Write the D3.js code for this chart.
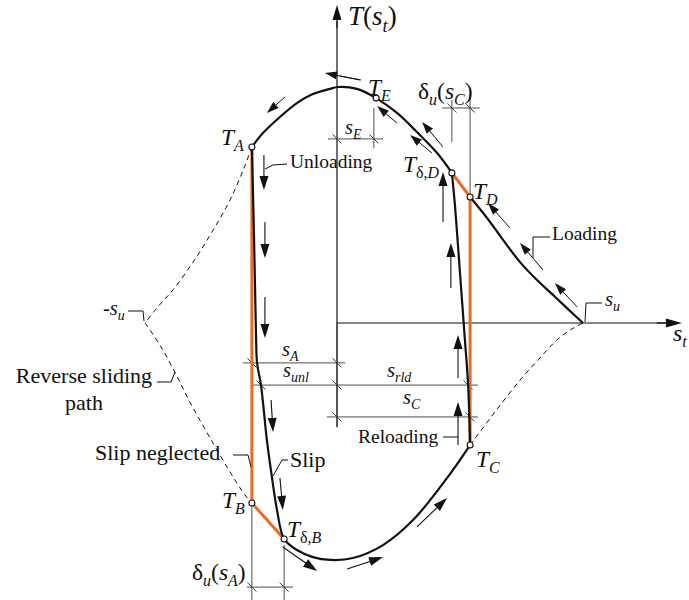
<!DOCTYPE html>
<html>
<head>
<meta charset="utf-8">
<script src="https://cdn.jsdelivr.net/npm/d3@7"></script>
<style>
  body { margin: 0; background: #fff; }
  text { font-family: "Liberation Serif", "Times New Roman", serif; fill: #111; }
</style>
</head>
<body>
<svg id="chart" width="689" height="600"></svg>
<script>
// Cyclic bond-slip law: slip s (in units of s_u) against bond stress T (in units of the peak).

// Monotonic envelope, rising part up to the peak and on to T_δ,D
const envelopeUpper = [
  [-0.346, 0.746], [-0.301, 0.805], [-0.232, 0.873], [-0.163, 0.932], [-0.098, 0.970],
  [-0.028, 0.992], [0.004, 1.000], [0.081, 0.992], [0.159, 0.953], [0.244, 0.890],
  [0.325, 0.809], [0.407, 0.720], [0.467, 0.636]
];
// Softening branch from T_D down to s_u
const envelopeSoftening = [
  [0.541, 0.534], [0.610, 0.445], [0.675, 0.352], [0.744, 0.258], [0.813, 0.182],
  [0.878, 0.119], [0.939, 0.059], [0.980, 0.019], [1.000, 0.000]
];
// Unloading from T_A through T_δ,B and the reverse valley to T_C
const unloadingPath = [
  [-0.346, 0.746], [-0.337, 0.352], [-0.329, -0.059], [-0.325, -0.169], [-0.309, -0.263],
  [-0.285, -0.496], [-0.264, -0.657], [-0.244, -0.792], [-0.215, -0.915], [-0.163, -0.962],
  [-0.098, -0.992], [-0.028, -1.004], [0.065, -0.996], [0.187, -0.941], [0.309, -0.835],
  [0.447, -0.657], [0.541, -0.517]
];
// Reloading from T_C back up to T_δ,D
const reloadingPath = [
  [0.541, -0.517], [0.533, -0.263], [0.520, -0.072], [0.500, 0.212], [0.480, 0.492], [0.467, 0.636]
];
// Simplified path with slip neglected
const slipNeglectedUnload = [[-0.346, 0.746], [-0.346, -0.763], [-0.215, -0.915]];
const slipNeglectedReload = [[0.467, 0.636], [0.541, 0.534], [0.541, -0.517]];
// Reverse sliding path (dashed)
const reverseUpper = [
  [-0.346, 0.746], [-0.378, 0.657], [-0.435, 0.521], [-0.508, 0.386], [-0.585, 0.258],
  [-0.667, 0.140], [-0.732, 0.064], [-0.780, 0.000]
];
const reverseLower = [
  [-0.780, 0.000], [-0.720, -0.093], [-0.659, -0.208], [-0.598, -0.335], [-0.516, -0.487],
  [-0.435, -0.631], [-0.374, -0.729], [-0.346, -0.763]
];
const reverseRight = [
  [0.541, -0.517], [0.642, -0.377], [0.744, -0.242], [0.825, -0.148], [0.894, -0.072],
  [0.955, -0.025], [1.000, 0.000]
];
// Characteristic points
const pointNames = ["T_A", "T_E", "T_δ,D", "T_D", "T_B", "T_δ,B", "T_C"];
const pointValues = [
  [-0.346, 0.746], [0.159, 0.953], [0.467, 0.636], [0.541, 0.534],
  [-0.346, -0.763], [-0.215, -0.915], [0.541, -0.517]
];
// Direction arrows [tail s, tail T, tip s, tip T]
const envelopeArrows = [
  [-0.211, 0.958, -0.285, 0.890], [0.093, 1.030, -0.049, 1.059],
  [0.244, 0.847, 0.163, 0.919], [0.431, 0.746, 0.346, 0.852], [0.386, 0.720, 0.297, 0.797],
  [0.703, 0.403, 0.614, 0.508], [0.837, 0.225, 0.744, 0.339], [0.976, 0.068, 0.886, 0.169]
];
const unloadingArrows = [
  [-0.297, 0.712, -0.297, 0.564], [-0.293, 0.428, -0.293, 0.275], [-0.293, 0.110, -0.293, -0.064],
  [-0.268, -0.326, -0.260, -0.462], [-0.232, -0.657, -0.220, -0.792],
  [-0.220, -0.949, -0.081, -1.051], [0.041, -1.042, 0.187, -0.992], [0.325, -0.864, 0.447, -0.742]
];
const reloadingArrows = [
  [0.431, 0.428, 0.431, 0.640], [0.463, 0.148, 0.463, 0.339],
  [0.492, -0.233, 0.492, -0.051], [0.492, -0.517, 0.492, -0.335]
];
// Slip dimensions: [from s, to s, level T, tick positions]
const dimensions = [
  { name: "sA",   from: -0.382, to: 0.033, at: -0.169, ticks: [-0.346, 0] },
  { name: "sunl", from: -0.341, to: 0.573, at: -0.263, ticks: [-0.309, 0, 0.533] },
  { name: "sC",   from: -0.041, to: 0.573, at: -0.398, ticks: [0, 0.541] },
  { name: "sE",   from: -0.037, to: 0.187, at: 0.780,  ticks: [0, 0.150] },
  { name: "duC",  from: 0.427,  to: 0.581, at: 0.911,  ticks: [0.467, 0.541] },
  { name: "duA",  from: -0.366, to: -0.179, at: -1.119, ticks: [-0.346, -0.215] }
];
// Extension lines: [s, T from, T to]
const extensions = [
  [0.150, 0.911, 0.742], [0.467, 0.945, 0.767], [0.541, 0.966, 0.534],
  [-0.346, -0.763, -1.174], [-0.215, -0.940, -1.174], [0, 0, -0.441]
];

const svg = d3.select("#chart");
const x = d3.scaleLinear().domain([0, 1]).range([337, 583]);
const y = d3.scaleLinear().domain([0, 1]).range([323, 87]);

const smooth = d3.line().x(d => x(d[0])).y(d => y(d[1])).curve(d3.curveCatmullRom.alpha(0.5));
const straight = d3.line().x(d => x(d[0])).y(d => y(d[1]));

const ORANGE = "#ec6a24";
const DIM = "#3a3a3a";

function arrow(g, a, len, wid, sw) {
  const x0 = x(a[0]), y0 = y(a[1]), x1 = x(a[2]), y1 = y(a[3]);
  const dx = x1 - x0, dy = y1 - y0, L = Math.hypot(dx, dy);
  const ux = dx / L, uy = dy / L, nx = -uy, ny = ux;
  const bx = x1 - ux * len, by = y1 - uy * len;
  g.append("line").attr("x1", x0).attr("y1", y0).attr("x2", bx + ux).attr("y2", by + uy)
    .attr("stroke", "#111").attr("stroke-width", sw);
  g.append("path")
    .attr("d", `M${x1},${y1}L${bx + nx * wid / 2},${by + ny * wid / 2}L${bx - nx * wid / 2},${by - ny * wid / 2}Z`)
    .attr("fill", "#111");
}

// Rich text: parts of [string, italic, subscript]
function label(xp, yp, parts, size, anchor) {
  const t = svg.append("text").attr("x", xp).attr("y", yp).attr("font-size", size)
    .attr("text-anchor", anchor || "start");
  let sub = false;
  parts.forEach(p => {
    const ts = t.append("tspan").text(p[0]);
    if (p[1]) ts.attr("font-style", "italic");
    if (p[2] && !sub) { ts.attr("dy", size * 0.26).attr("font-size", size * 0.68); sub = true; }
    else if (p[2]) { ts.attr("font-size", size * 0.68); }
    else if (!p[2] && sub) { ts.attr("dy", -size * 0.26); sub = false; }
  });
  return t;
}

// Axes
const axes = svg.append("g");
axes.append("line").attr("x1", x(0)).attr("y1", y(-0.441)).attr("x2", x(0)).attr("y2", y(1.28))
  .attr("stroke", "#111").attr("stroke-width", 1.2);
arrow(axes, [0, 1.25, 0, 1.347], 15, 9, 1.2);
axes.append("line").attr("x1", x(0)).attr("y1", y(0)).attr("x2", x(1.34)).attr("y2", y(0))
  .attr("stroke", "#111").attr("stroke-width", 1.2);
arrow(axes, [1.3, 0, 1.402, 0], 16, 9, 1.2);

// Extension and dimension lines
const dims = svg.append("g").attr("stroke", DIM).attr("stroke-width", 0.9);
extensions.forEach(e => {
  dims.append("line").attr("x1", x(e[0])).attr("y1", y(e[1])).attr("x2", x(e[0])).attr("y2", y(e[2]));
});
dimensions.forEach(d => {
  dims.append("line").attr("x1", x(d.from)).attr("y1", y(d.at)).attr("x2", x(d.to)).attr("y2", y(d.at));
  d.ticks.forEach(s => {
    dims.append("line").attr("x1", x(s) - 4.5).attr("y1", y(d.at) - 4.5)
      .attr("x2", x(s) + 4.5).attr("y2", y(d.at) + 4.5).attr("stroke-width", 1);
  });
});

// Reverse sliding path
const dashed = svg.append("g").attr("fill", "none").attr("stroke", "#111")
  .attr("stroke-width", 1).attr("stroke-dasharray", "5,4");
[reverseUpper, reverseLower, reverseRight].forEach(p => dashed.append("path").attr("d", smooth(p)));

// Slip-neglected path
const orange = svg.append("g").attr("fill", "none").attr("stroke", ORANGE)
  .attr("stroke-width", 3).attr("stroke-linejoin", "round");
orange.append("path").attr("d", straight(slipNeglectedUnload));
orange.append("path").attr("d", straight(slipNeglectedReload));

// Hysteresis curves
const curves = svg.append("g").attr("fill", "none").attr("stroke", "#111").attr("stroke-width", 2.2);
[envelopeUpper, envelopeSoftening, unloadingPath, reloadingPath].forEach(p =>
  curves.append("path").attr("d", smooth(p)));

// Direction arrows
const arrows = svg.append("g");
envelopeArrows.forEach(a => arrow(arrows, a, 12, 8, 1));
unloadingArrows.forEach(a => arrow(arrows, a, 14, 9, 1.1));
reloadingArrows.forEach(a => arrow(arrows, a, 14, 9, 1.1));

// Characteristic points
svg.append("g").selectAll("circle").data(pointValues).join("circle")
  .attr("cx", d => x(d[0])).attr("cy", d => y(d[1])).attr("r", 3)
  .attr("fill", "#fff").attr("stroke", "#111").attr("stroke-width", 1.1)
  .attr("data-name", (d, i) => pointNames[i]);

// Leader lines
const leaders = [
  [[287, 164], [273, 165], [265, 169]],
  [[550, 237], [533, 237], [533, 258]],
  [[443, 437], [458, 437]],
  [[128, 311], [143, 311], [144, 321]],
  [[602, 303], [586, 303], [585, 322]],
  [[157, 382], [171, 382], [175, 372]],
  [[233, 455], [248, 455], [251, 467]],
  [[288, 460], [282, 460], [273, 476]],
  [[361, 80], [340, 76]]
];
const lead = svg.append("g").attr("fill", "none").attr("stroke", "#111").attr("stroke-width", 1);
leaders.forEach(p => lead.append("path").attr("d", d3.line()(p)));

// Labels
const TS = 23.5, SS = 20.5, WS = 19.5, BS = 22;
label(348, 25, [["T", 1], ["(", 0], ["s", 1], ["t", 1, 1], [")", 0]], 27);
label(673, 341, [["s", 1], ["t", 1, 1]], 24);
label(221, 145, [["T", 1], ["A", 1, 1]], TS);
label(368, 95, [["T", 1], ["E", 1, 1]], TS);
label(403, 172, [["T", 1], ["δ,", 0, 1], ["D", 1, 1]], TS);
label(473, 199, [["T", 1], ["D", 1, 1]], TS);
label(222, 508, [["T", 1], ["B", 1, 1]], TS);
label(287, 537, [["T", 1], ["δ,", 0, 1], ["B", 1, 1]], TS);
label(476, 467, [["T", 1], ["C", 1, 1]], TS);
label(418, 99, [["δ", 0], ["u", 1, 1], ["(", 0], ["s", 1], ["C", 1, 1], [")", 0]], TS);
label(192, 580, [["δ", 0], ["u", 1, 1], ["(", 0], ["s", 1], ["A", 1, 1], [")", 0]], TS);
label(345, 134, [["s", 1], ["E", 1, 1]], SS);
label(282, 356, [["s", 1], ["A", 1, 1]], SS);
label(283, 377, [["s", 1], ["unl", 1, 1]], SS);
label(387, 377, [["s", 1], ["rld", 1, 1]], SS);
label(403, 404, [["s", 1], ["C", 1, 1]], SS);
label(103, 315, [["-", 0], ["s", 1], ["u", 1, 1]], SS);
label(605, 306, [["s", 1], ["u", 1, 1]], SS);
label(290, 168, [["Unloading", 0]], WS);
label(552, 240, [["Loading", 0]], WS);
label(358, 443, [["Reloading", 0]], WS);
label(84, 383, [["Reverse sliding", 0]], BS, "middle");
label(84, 410, [["path", 0]], BS, "middle");
label(95, 460, [["Slip neglected", 0]], BS);
label(290, 467, [["Slip", 0]], BS);
</script>
</body>
</html>
